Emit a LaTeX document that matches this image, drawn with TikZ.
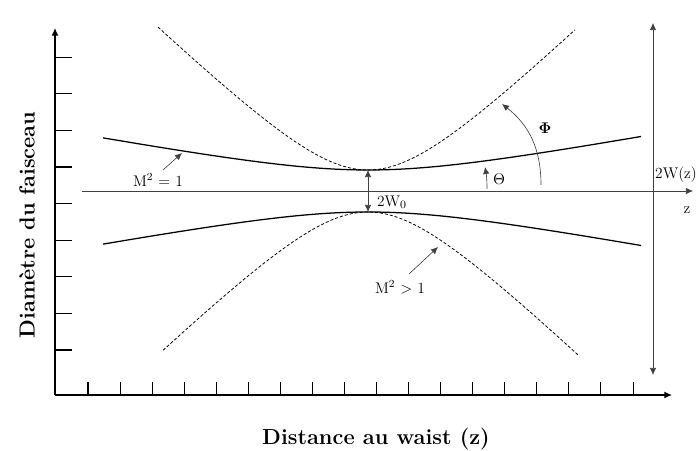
\documentclass[tikz,border=0pt]{standalone}
\usepackage{amsmath,amssymb}
\usepackage{tikz}
\usetikzlibrary{arrows.meta}

\begin{document}
\begin{tikzpicture}[x=0.025cm,y=0.025cm,
	>={Latex[length=5pt,width=4.5pt]},
	every node/.style = {font=\fontsize{11}{13}\selectfont},
	axe/.style = {line width=0.9pt, -{Latex[length=5.5pt,width=5pt]}},
	graduation/.style = {line width=0.75pt},
	fin/.style = {line width=0.45pt, black!75},
	gauss/.style = {line width=0.9pt},
	multi/.style = {line width=0.55pt, dash pattern=on 2.2pt off 1.4pt},
	titre/.style = {font=\bfseries\fontsize{15.5}{18}\selectfont}]
	\useasboundingbox (0,0) rectangle (697,451);
	% axes
	\coordinate (O) at (55,56);
	\coordinate (ytip) at (55,423);
	\coordinate (xtip) at (672,56);
	\draw [axe] (O) -- (ytip);
	\draw [axe] (O) -- (xtip);
	\foreach \k in {0,...,8}
		\draw [graduation] (55,{101+36.6*\k}) -- +(17,0);
	\foreach \k in {0,...,17}
		\draw [graduation] ({88+32.06*\k},56) -- +(0,13);
	% axe z
	\coordinate (zdeb) at (82,260);
	\coordinate (zfin) at (693,260);
	\draw [fin, ->] (zdeb) -- (zfin);
	\node (zlab) at (687,241) {z};
	% 2W(z)
	\coordinate (wbas) at (653,76);
	\coordinate (whaut) at (653,428);
	\draw [fin, <->] (wbas) -- (whaut);
	\node (wzlab) at (676,276) {2W(z)};
	% faisceau M^2 = 1
	\draw [gauss] plot [domain=-265:273, samples=70] ({368+\x},{260+21*sqrt(1+(\x/114)^2)});
	\draw [gauss] plot [domain=-265:273, samples=70] ({368+\x},{260-21*sqrt(1+(\x/114)^2)});
	% faisceau M^2 > 1
	\draw [multi] plot [domain=-210:207, samples=80] ({368+\x},{281+97*(sqrt(0.5776+(\x/100)^2)-0.76)});
	\draw [multi] plot [domain=-205:211, samples=80] ({368+\x},{239-97*(sqrt(0.5776+(\x/100)^2)-0.76)});
	% waist
	\coordinate (wsup) at (368,281);
	\coordinate (winf) at (368,239);
	\draw [fin, <->] (winf) -- (wsup);
	\node (w0lab) at (392,249) {2W$_0$};
	% angles
	\coordinate (t0) at (487,262);
	\coordinate (t1) at (485,284);
	\draw [fin, ->] (t0) to[out=90,in=-80] (t1);
	\node (thetalab) at (499,272) {$\Theta$};
	\coordinate (p0) at (541,266);
	\coordinate (p1) at (502,347);
	\draw [fin, ->] (p0) to[out=90,in=-38] (p1);
	\node (philab) at (545,323) {$\boldsymbol{\Phi}$};
	% legendes
	\node (m1lab) at (158,271) {M\textsuperscript{2} = 1};
	\coordinate (m1a) at (163,281);
	\coordinate (m1b) at (182,298);
	\draw [fin, ->] (m1a) -- (m1b);
	\node (m2lab) at (400,164) {M\textsuperscript{2} $>$ 1};
	\coordinate (m2a) at (409,177);
	\coordinate (m2b) at (438,204);
	\draw [fin, ->] (m2a) -- (m2b);
	% titres des axes
	\node [titre, rotate=90] (ylab) at (27,226) {Diamètre du faisceau};
	\node [titre] (xlab) at (376,12) {Distance au waist (z)};
\end{tikzpicture}
\end{document}
